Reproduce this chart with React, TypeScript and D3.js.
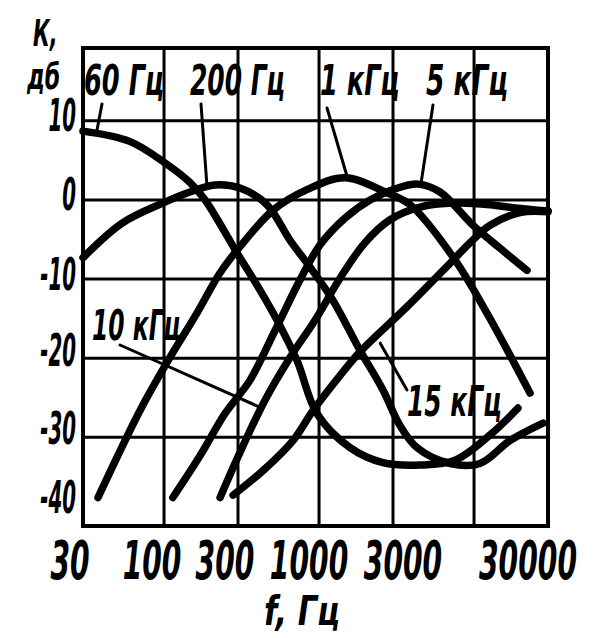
import React from 'react'
import * as d3 from 'd3'

// frequency axis (Hz) and gain axis (dB)
const freqGrid = [100, 300, 1000, 3000, 10000]
const freqTicks = [30, 100, 300, 1000, 3000, 30000]
const freqLabels = ['30', '100', '300', '1000', '3000', '30000']
const dbGrid = [10, 0, -10, -20, -30]
const dbTicks = [10, 0, -10, -20, -30, -40]

// curves: [Hz, dB]
const curve60 = [[30, 8.7], [60, 7.4], [101, 4.7], [147, 2.2], [184, 0], [296, -6.7], [416, -11.4], [536, -15.2], [721, -20.3], [970, -27], [1585, -31.3], [2584, -33.2], [4480, -33.5], [7536, -32.9], [12680, -29.7], [19200, -26.3]]
const curve200 = [[30, -7.3], [54, -2.9], [98, -0.4], [147, 1.0], [213, 1.9], [309, 1.5], [461, -0.6], [650, -5.1], [875, -8.5], [1230, -12.7], [1837, -19], [2584, -24], [3327, -28.5], [4287, -31.3], [7000, -33.3], [10920, -33.3], [17070, -30.4], [27870, -28.2]]
const curve1k = [[37.5, -37.6], [70, -26.6], [104, -20.6], [163, -14.3], [230, -9.2], [309, -5.9], [505, -1.3], [836, 1.3], [1470, 2.8], [2742, 0.9], [3864, -0.6], [7310, -7.2], [12110, -14.3], [22970, -24.4]]
const curve5k = [[114, -37.6], [171, -32.3], [247, -27], [358, -22.8], [520, -16.5], [754, -10.1], [1014, -5.7], [1470, -2.3], [2133, 0], [3092, 1.4], [4347, 2.0], [6030, 1.0], [9840, -3.2], [14700, -6.1], [21960, -8.9]]
const curve10k = [[230, -37.6], [309, -31.9], [448, -25.3], [650, -19.9], [942, -15.2], [1365, -9.9], [1978, -5.4], [2871, -2.5], [4480, -0.9], [7536, -0.4], [12680, -0.6], [18360, -1.0], [30000, -1.4]]
const curve15k = [[279, -37.3], [435, -34.2], [679, -30.4], [915, -26.6], [1365, -22.2], [1837, -19.2], [3693, -13.5], [7000, -8.0], [9420, -5.4], [12680, -3.2], [19780, -1.6], [30000, -1.5]]

const curves = [curve60, curve200, curve1k, curve5k, curve10k, curve15k]

// label name and the curve point its leader points to
const curveNames = ['60 Гц', '200 Гц', '1 кГц', '5 кГц', '10 кГц', '15 кГц']
const leaderTargets = [[37, 8.9], [189, 1.9], [1515, 3], [4550, 2.1], [416, -26.2], [2480, -18.1]]

const FONT = "'DejaVu Sans Condensed', 'DejaVu Sans', sans-serif"

function Txt({ x, y, sx, size, anchor = 'start', children }: any) {
  return (
    <text transform={`translate(${x},${y}) scale(${sx},1)`} fontSize={size} textAnchor={anchor}>
      {children}
    </text>
  )
}

export default function App() {
  const x = d3.scaleLog().domain([30, 30000]).range([83, 548])
  const y = d3.scaleLinear().domain([-41.2, 19.2]).range([526, 48])
  const line = d3.line<number[]>()
    .x(d => x(d[0]))
    .y(d => y(d[1]))
    .curve(d3.curveCatmullRom.alpha(0.5))

  // label anchors: [x, baseline, squeeze]
  const labelPos = [[84, 95, 0.68], [190, 95, 0.66], [320, 95, 0.68], [426, 95, 0.7], [92, 340, 0.62], [407, 416, 0.66]]
  const leaderFrom = [[102, 104], [201, 104], [327, 108], [433, 105], [120, 345], [407, 390]]
  // nudges of the printed tick labels
  const tickDx = [-13, -12, -13, -10, 10, -20]
  const tickDy = [10, 10, 11, 8, 7, -4]

  return (
    <svg width={605} height={638} style={{ position: 'absolute', left: 0, top: 0, background: '#fff' }}>
      <rect width={605} height={638} fill="#fff" />
      <g stroke="#000" strokeWidth={3}>
        {freqGrid.map(f => <line key={f} x1={x(f)} x2={x(f)} y1={48} y2={526} />)}
        {dbGrid.map(v => <line key={v} x1={83} x2={548} y1={y(v)} y2={y(v)} />)}
      </g>
      <rect x={83} y={48} width={465} height={478} fill="none" stroke="#000" strokeWidth={4} />

      <g fill="none" stroke="#000" strokeWidth={7.5} strokeLinecap="round" strokeLinejoin="round">
        {curves.map((c, i) => <path key={i} d={line(c) || ''} />)}
      </g>

      <g stroke="#000" strokeWidth={3} strokeLinecap="round">
        {leaderTargets.map((t, i) => (
          <line key={i} x1={leaderFrom[i][0]} y1={leaderFrom[i][1]} x2={x(t[0])} y2={y(t[1])} />
        ))}
      </g>

      <g fontFamily={FONT} fontWeight="bold" fontStyle="italic" fill="#000">
        {curveNames.map((n, i) => (
          <Txt key={n} x={labelPos[i][0]} y={labelPos[i][1]} sx={labelPos[i][2]} size={42}>{n}</Txt>
        ))}
        {dbTicks.map((v, i) => (
          <Txt key={v} x={76} y={y(v) + tickDy[i]} sx={0.5} size={44} anchor="end">{String(v)}</Txt>
        ))}
        {freqTicks.map((f, i) => (
          <Txt key={f} x={x(f) + tickDx[i]} y={579} sx={0.58} size={54} anchor="middle">{freqLabels[i]}</Txt>
        ))}
        <Txt x={33} y={46} sx={0.6} size={38}>К,</Txt>
        <Txt x={27} y={89} sx={0.68} size={36}>дб</Txt>
        <Txt x={264} y={625} sx={0.85} size={40}>f, Гц</Txt>
      </g>
    </svg>
  )
}
